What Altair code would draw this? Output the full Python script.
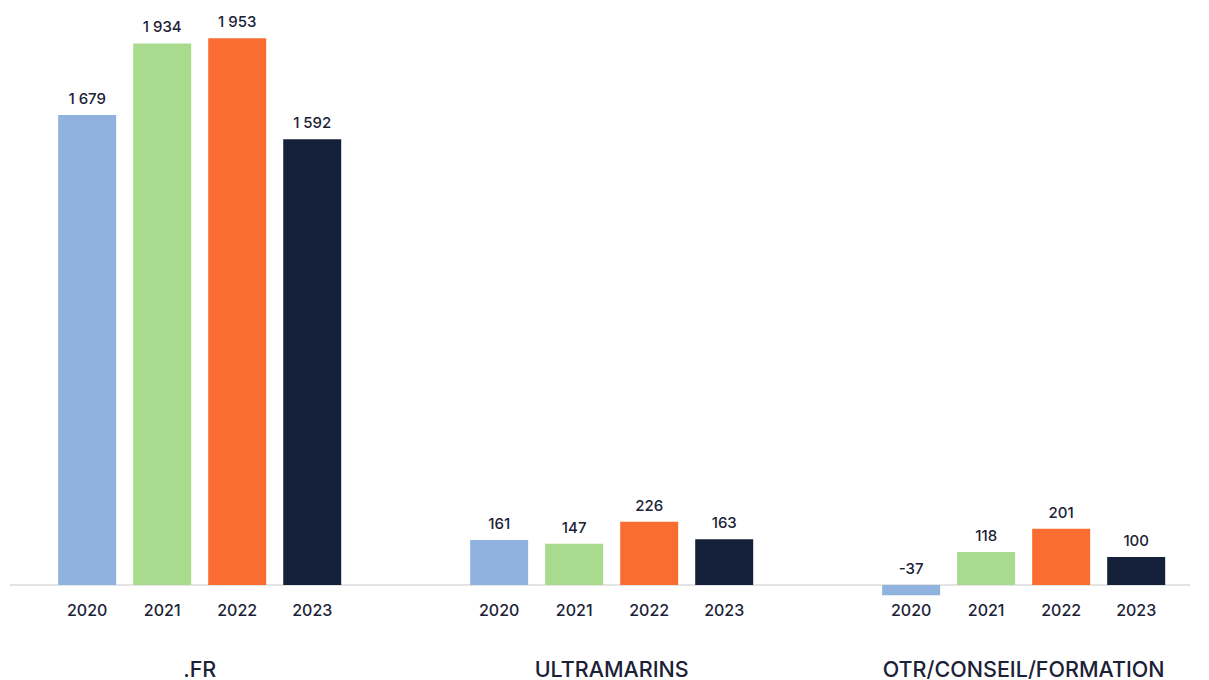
import altair as alt
import pandas as pd

groups = [".FR", "ULTRAMARINS", "OTR/CONSEIL/FORMATION"]
years = ["2020", "2021", "2022", "2023"]
values_fr = [1679, 1934, 1953, 1592]
values_ultra = [161, 147, 226, 163]
values_otr = [-37, 118, 201, 100]
colors = ["#8fb3de", "#a8db8d", "#f96d32", "#15213a"]

rows = []
for g, vals in zip(groups, [values_fr, values_ultra, values_otr]):
    for y, v in zip(years, vals):
        rows.append({"group": g, "year": y, "value": v,
                     "label": f"{v:,}".replace(",", " "),
                     "ly": max(v, 0)})
df = pd.DataFrame(rows)

FONT = "Inter"
TXT = "#1b2236"

x = alt.X("group:N", sort=groups, title=None,
          scale=alt.Scale(paddingInner=0.313, paddingOuter=0.0886, align=0.66),
          axis=alt.Axis(orient="bottom", domain=False, ticks=False, labelPadding=32,
                        labelFontSize=21.5, labelFont=FONT, labelColor=TXT,
                        labelFontWeight=500, labelAngle=0, labelLimit=0))
xo = alt.XOffset("year:N", sort=years,
                 scale=alt.Scale(paddingInner=0.227, paddingOuter=0))
yscale = alt.Scale(domain=[-150, 2050], nice=False, zero=False)

base = alt.Chart(df)

rule = base.mark_rule(color="#e4e4e4", strokeWidth=1.2).encode(
    y=alt.Y("z:Q", scale=yscale, axis=None)
).transform_calculate(z="0")

bars = base.mark_bar().encode(
    x=x, xOffset=xo,
    y=alt.Y("value:Q", scale=yscale, axis=None),
    y2=alt.datum(0),
    color=alt.Color("year:N", sort=years,
                    scale=alt.Scale(domain=years, range=colors), legend=None),
)

vlabels = base.mark_text(baseline="bottom", dy=-8, fontSize=15, font=FONT,
                         fontWeight=500, color=TXT).encode(
    x=x, xOffset=xo,
    y=alt.Y("ly:Q", scale=yscale, axis=None),
    text="label:N",
)

ylabels = base.mark_text(baseline="middle", fontSize=16, font=FONT,
                         fontWeight=500, color=TXT).encode(
    x=x, xOffset=xo,
    y=alt.value(600),
    text="year:N",
)

chart = alt.layer(rule, bars, vlabels, ylabels).properties(
    width=1180, height=616,
    padding={"left": 2, "top": 3, "right": 10, "bottom": 56},
    autosize=alt.AutoSizeParams(type="none"),
    background="white",
).configure_view(strokeWidth=0, stroke=None)

chart.save("out.html", embed_options={"renderer": "svg", "actions": False})
